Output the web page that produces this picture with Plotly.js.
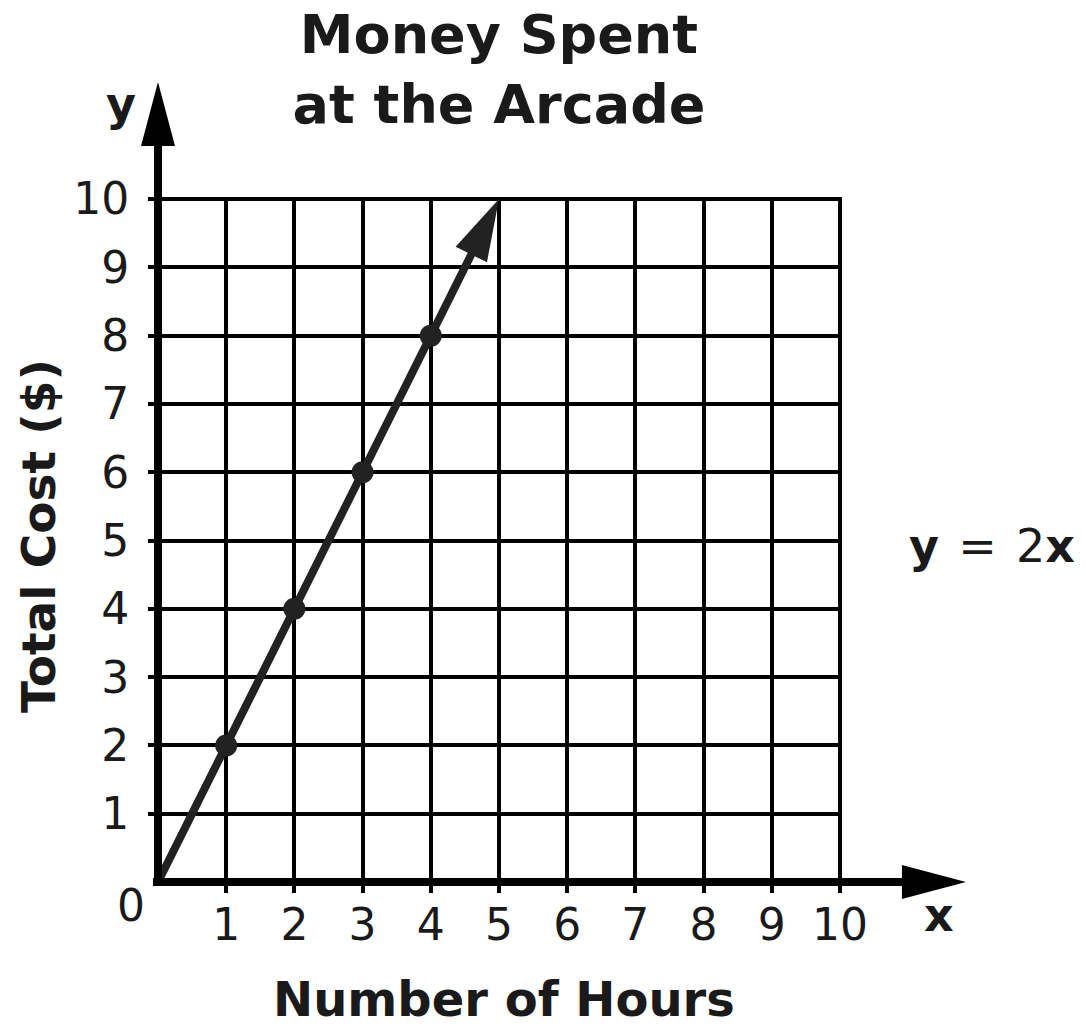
<!DOCTYPE html>
<html>
<head>
<meta charset="utf-8">
<script src="https://cdn.plot.ly/plotly-3.0.1.min.js"></script>
<style>html,body{margin:0;padding:0;background:#fff;}</style>
</head>
<body>
<div id="chart" style="width:1086px;height:1029px;"></div>
<script>
// ---- data ----
const hours = [0, 1, 2, 3, 4, 5];
const cost = [0, 2, 4, 6, 8, 10];
const markerShown = [false, true, true, true, true, false];
const xTickVals = [1, 2, 3, 4, 5, 6, 7, 8, 9, 10];
const yTickVals = [1, 2, 3, 4, 5, 6, 7, 8, 9, 10];
const titleText = 'Money Spent<br>at the Arcade';
const xTitle = 'Number of Hours';
const yTitle = 'Total Cost ($)';
const equationText = '<b>y</b>\u200A = \u200A2<b>x</b>';

// ---- layout geometry ----
const W = 1086, H = 1029;
const OX = 158, OY = 882;          // pixel position of the origin
const SX = 68.2, SY = 68.3;        // pixels per unit
const xRange = [0, 10.03], yRange = [0, 10.03]; // tiny pad so edge gridlines are drawn
const PW = SX * (xRange[1] - xRange[0]);
const PH = SY * (yRange[1] - yRange[0]);
const M = {l: OX, r: W - OX - PW, t: OY - PH, b: H - OY};
const ink = '#1a1a1a';
const lineInk = '#222222';
const FONT = 'DejaVu Sans, Verdana, sans-serif';

// pixel -> paper helpers
const px = p => (p - OX) / PW;
const py = p => (OY - p) / PH;

// arrowhead at end of data line (computed from last two data points)
const n = hours.length;
const tipX = hours[n - 1], tipY = cost[n - 1];
const dxp = (hours[n - 1] - hours[n - 2]) * SX;
const dyp = (cost[n - 1] - cost[n - 2]) * SY;
const len = Math.hypot(dxp, dyp);
const ux = dxp / len, uy = dyp / len;
const headLen = 62, headHalf = 17.5;
const baseX = tipX - ux * headLen / SX;
const baseY = tipY - uy * headLen / SY;
const c1x = baseX + (-uy) * headHalf / SX, c1y = baseY + (ux) * headHalf / SY;
const c2x = baseX - (-uy) * headHalf / SX, c2y = baseY - (ux) * headHalf / SY;
const lineBackX = tipX - ux * (headLen - 6) / SX;
const lineBackY = tipY - uy * (headLen - 6) / SY;

const lineX = hours.slice(0, n - 1).concat([lineBackX]);
const lineY = cost.slice(0, n - 1).concat([lineBackY]);

const traces = [
  {
    x: lineX, y: lineY, type: 'scatter', mode: 'lines',
    line: {color: lineInk, width: 8}, hoverinfo: 'skip', showlegend: false,
    cliponaxis: false
  },
  {
    x: hours.filter((_, i) => markerShown[i]),
    y: cost.filter((_, i) => markerShown[i]),
    type: 'scatter', mode: 'markers',
    marker: {color: lineInk, size: 22}, showlegend: false, cliponaxis: false
  }
];

const shapes = [
  // data arrowhead
  {type: 'path', xref: 'x', yref: 'y',
   path: `M${tipX},${tipY} L${c1x},${c1y} L${c2x},${c2y} Z`,
   fillcolor: lineInk, line: {width: 0}, layer: 'above'},
  // y axis line + arrow
  {type: 'line', xref: 'paper', yref: 'paper', x0: 0, x1: 0, y0: py(886), y1: py(140),
   line: {color: '#000', width: 8}, layer: 'above'},
  {type: 'path', xref: 'paper', yref: 'paper',
   path: `M${px(158)},${py(82)} L${px(141)},${py(146)} L${px(175)},${py(146)} Z`,
   fillcolor: '#000', line: {width: 0}, layer: 'above'},
  // x axis line + arrow
  {type: 'line', xref: 'paper', yref: 'paper', x0: px(153), x1: px(910), y0: 0, y1: 0,
   line: {color: '#000', width: 8}, layer: 'above'},
  {type: 'path', xref: 'paper', yref: 'paper',
   path: `M${px(966)},${py(882)} L${px(902)},${py(865)} L${px(902)},${py(899)} Z`,
   fillcolor: '#000', line: {width: 0}, layer: 'above'}
];

const annotations = [
  {text: '0', xref: 'paper', yref: 'paper', x: px(131), y: py(906), showarrow: false,
   font: {family: FONT, size: 44, color: ink}, xanchor: 'center', yanchor: 'middle'},
  {text: '<b>y</b>', xref: 'paper', yref: 'paper', x: px(121), y: py(104), showarrow: false,
   font: {family: FONT, size: 46, color: ink}, xanchor: 'center', yanchor: 'middle'},
  {text: '<b>x</b>', xref: 'paper', yref: 'paper', x: px(939), y: py(915), showarrow: false,
   font: {family: FONT, size: 46, color: ink}, xanchor: 'center', yanchor: 'middle'},
  {text: equationText, xref: 'paper', yref: 'paper', x: px(992), y: py(546), showarrow: false,
   font: {family: FONT, size: 46, color: ink}, xanchor: 'center', yanchor: 'middle'},
  {text: '<b>' + xTitle + '</b>', xref: 'paper', yref: 'paper', x: px(504), y: py(1028), showarrow: false,
   font: {family: FONT, size: 48, color: ink}, xanchor: 'center', yanchor: 'bottom', borderpad: 0},
  {text: '<b>' + yTitle + '</b>', xref: 'paper', yref: 'paper', x: px(38), y: py(536), showarrow: false,
   textangle: -90, font: {family: FONT, size: 47, color: ink}, xanchor: 'center', yanchor: 'middle'}
];

const layout = {
  width: W, height: H,
  margin: M,
  paper_bgcolor: '#fff', plot_bgcolor: '#fff',
  title: {text: '<b>' + titleText + '</b>', font: {family: FONT, size: 54, color: ink},
          x: px(499), xref: 'paper', xanchor: 'center', y: 1 - 53 / H, yref: 'container', yanchor: 'top'},
  xaxis: {range: xRange, tickvals: xTickVals, ticktext: xTickVals.map(String),
          showgrid: true, gridcolor: '#000', gridwidth: 4, zeroline: false, showline: false,
          ticks: 'outside', ticklen: 10, tickwidth: 4, tickcolor: '#000',
          tickfont: {family: FONT, size: 44, color: ink}, ticklabelstandoff: -6,
          fixedrange: true},
  yaxis: {range: yRange, tickvals: yTickVals, ticktext: yTickVals.map(String),
          showgrid: true, gridcolor: '#000', gridwidth: 4, zeroline: false, showline: false,
          ticks: 'outside', ticklen: 9, tickwidth: 4, tickcolor: '#000',
          tickfont: {family: FONT, size: 44, color: ink}, ticklabelstandoff: 10,
          fixedrange: true},
  shapes: shapes,
  annotations: annotations,
  showlegend: false
};

Plotly.newPlot('chart', traces, layout, {displayModeBar: false, staticPlot: true});
</script>
</body>
</html>
